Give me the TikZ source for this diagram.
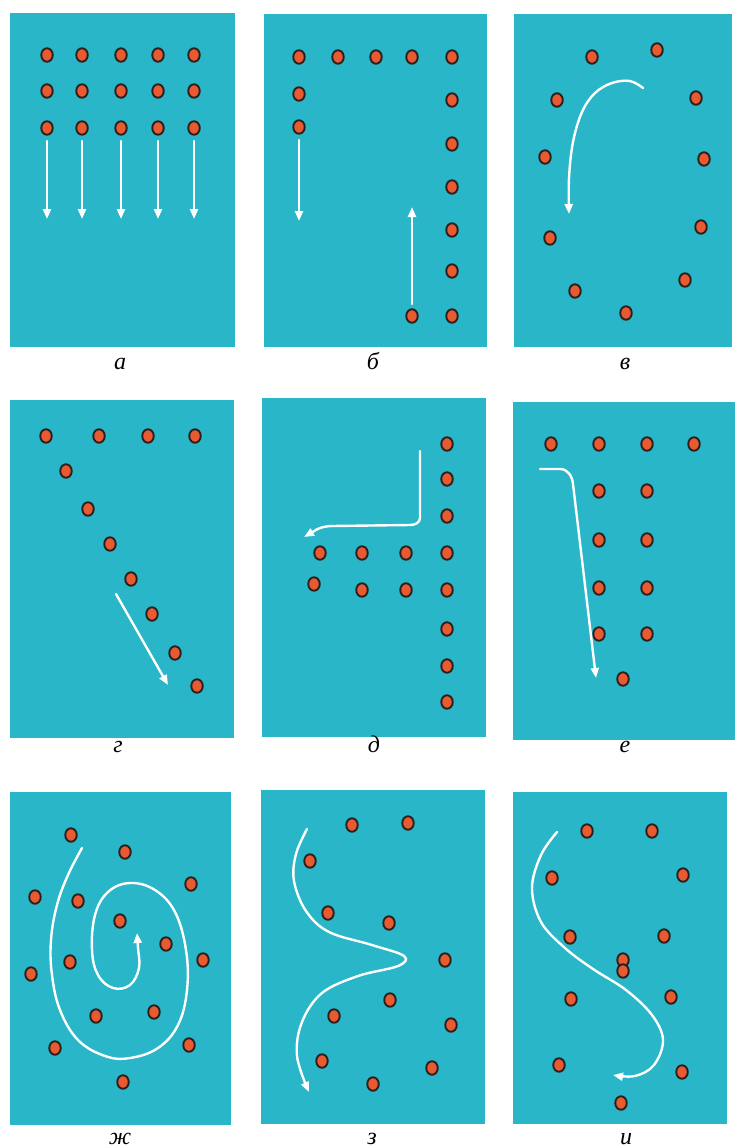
\documentclass[tikz,border=0pt]{standalone}
\usepackage{fontspec}
\newfontfamily\labfont{Liberation Serif}
\usetikzlibrary{shapes.geometric,arrows.meta}
\definecolor{panelc}{RGB}{40,182,200}
\definecolor{dotfill}{RGB}{232,90,50}
\definecolor{dotedge}{RGB}{45,32,28}
\tikzset{
  panelbox/.style={fill=panelc},
  dot/.style={ellipse, fill=dotfill, draw=dotedge, line width=1.9pt, minimum width=11.5pt, minimum height=13.5pt, inner sep=0pt},
  arr/.style={draw=white, line width=2.4pt, line cap=round, -{Triangle[length=10pt,width=8pt]}},
  lab/.style={anchor=base, font=\labfont\itshape\fontsize{24}{24}\selectfont, text=black, inner sep=0pt}
}
\begin{document}
\begin{tikzpicture}[x=1pt,y=-1pt]
\useasboundingbox (0,0) rectangle (738,1148);
\fill[white] (0,0) rectangle (738,1148);
% panels
\fill[panelbox] (10,13) rectangle (235,347);
\fill[panelbox] (264,14) rectangle (487,347);
\fill[panelbox] (514,14) rectangle (732,347);
\fill[panelbox] (10,400) rectangle (234,738);
\fill[panelbox] (262,398) rectangle (486,737);
\fill[panelbox] (513,402) rectangle (735,740);
\fill[panelbox] (10,792) rectangle (231,1125);
\fill[panelbox] (261,790) rectangle (485,1124);
\fill[panelbox] (513,792) rectangle (727,1124);
% labels
\node[lab] (la) at (120,369) {а};
\node[lab] (lb) at (373,369) {б};
\node[lab] (lv) at (625,369) {в};
\node[lab] (lg) at (118,752) {г};
\node[lab] (ld) at (374,752) {д};
\node[lab] (le) at (625,752) {е};
\node[lab] (lzh) at (120,1144) {ж};
\node[lab] (lz) at (372,1144) {з};
\node[lab] (li) at (626,1144) {и};
% ---- panel a
\foreach \y [count=\r] in {55,91,128}
  \foreach \x [count=\c] in {47,82,121,158,194}
    \node[dot] (a-\r-\c) at (\x,\y) {};
\foreach \x [count=\c] in {47,82,121,158,194}{
  \coordinate (as\c) at (\x,141);
  \coordinate (ae\c) at (\x,219);
  \draw[arr] (as\c) -- (ae\c);
}
% ---- panel b
\foreach \x/\y [count=\i] in {299/57,338/57,376/57,412/57,452/57,299/94,299/127,452/100,452/144,452/187,452/230,452/271,452/316,412/316}
  \node[dot] (b-\i) at (\x,\y) {};
\coordinate (bs1) at (299,140); \coordinate (be1) at (299,221);
\draw[arr] (bs1) -- (be1);
\coordinate (bs2) at (412,304); \coordinate (be2) at (412,207);
\draw[arr] (bs2) -- (be2);
% ---- panel v
\foreach \x/\y [count=\i] in {592/57,657/50,557/100,696/98,545/157,704/159,550/238,701/227,575/291,685/280,626/313}
  \node[dot] (v-\i) at (\x,\y) {};
\coordinate (vs) at (643,88); \coordinate (ve) at (569,214);
\draw[arr] plot[smooth, tension=0.6] coordinates {(vs) (630,81) (612,83) (595,93) (582,112) (573,142) (569,178) (ve)};
% ---- panel g
\foreach \x/\y [count=\i] in {46/436,99/436,148/436,195/436,66/471,88/509,110/544,131/579,152/614,175/653,197/686}
  \node[dot] (g-\i) at (\x,\y) {};
\coordinate (gs) at (116,594); \coordinate (ge) at (168,685);
\draw[arr] (gs) -- (ge);
% ---- panel d
\foreach \y [count=\i] in {444,479,516,553,590,629,666,702}
  \node[dot] (dr-\i) at (447,\y) {};
\foreach \x/\y [count=\i] in {320/553,362/553,406/553,314/584,362/590,406/590}
  \node[dot] (d-\i) at (\x,\y) {};
\coordinate (ds) at (420,451); \coordinate (de) at (304,537);
\draw[arr] (ds) -- (420,518) to[out=-90,in=0] (410,525) -- (332,526) to[out=180,in=30] (de);
% ---- panel e
\foreach \x/\y [count=\i] in {551/444,599/444,647/444,694/444,599/491,647/491,599/540,647/540,599/588,647/588,599/634,647/634,623/679}
  \node[dot] (e-\i) at (\x,\y) {};
\coordinate (es) at (540,469); \coordinate (ee) at (596,678);
\draw[arr] (es) -- (560,469) to[out=0,in=95] (573,484) -- (ee);
% ---- panel zh
\foreach \x/\y [count=\i] in {71/835,125/852,191/884,35/897,78/901,120/921,166/944,203/960,70/962,31/974,96/1016,154/1012,55/1048,189/1045,123/1082}
  \node[dot] (zh-\i) at (\x,\y) {};
\coordinate (zhs) at (82,848); \coordinate (zhe) at (137,933);
\draw[arr] plot[smooth, tension=0.65] coordinates {(zhs) (68,875) (57,905) (51,940) (52,975) (60,1010) (78,1040) (105,1056) (130,1058) (158,1048) (178,1025) (187,990) (186,950) (175,912) (155,890) (130,883) (108,892) (95,915) (92,950) (98,975) (113,988) (130,985) (139,968) (138,948) (zhe)};
% ---- panel z
\foreach \x/\y [count=\i] in {352/825,408/823,310/861,328/913,389/923,445/960,390/1000,334/1016,451/1025,322/1061,432/1068,373/1084}
  \node[dot] (z-\i) at (\x,\y) {};
\coordinate (zs) at (307,829); \coordinate (ze) at (309,1092);
\draw[arr] plot[smooth, tension=0.6] coordinates {(zs) (296,854) (294,881) (306,911) (329,932) (372,945) (404,956) (398,966) (358,976) (322,993) (302,1022) (297,1056) (ze)};
% ---- panel i
\foreach \x/\y [count=\i] in {587/831,652/831,552/878,683/875,570/937,664/936,623/960,623/971,571/999,671/997,559/1065,682/1072,621/1103}
  \node[dot] (i-\i) at (\x,\y) {};
\coordinate (is) at (557,832); \coordinate (ie) at (613,1075);
\draw[arr] plot[smooth, tension=0.6] coordinates {(is) (541,855) (532,888) (541,922) (565,948) (593,969) (626,990) (652,1015) (663,1040) (654,1065) (635,1076) (ie)};
\end{tikzpicture}
\end{document}
